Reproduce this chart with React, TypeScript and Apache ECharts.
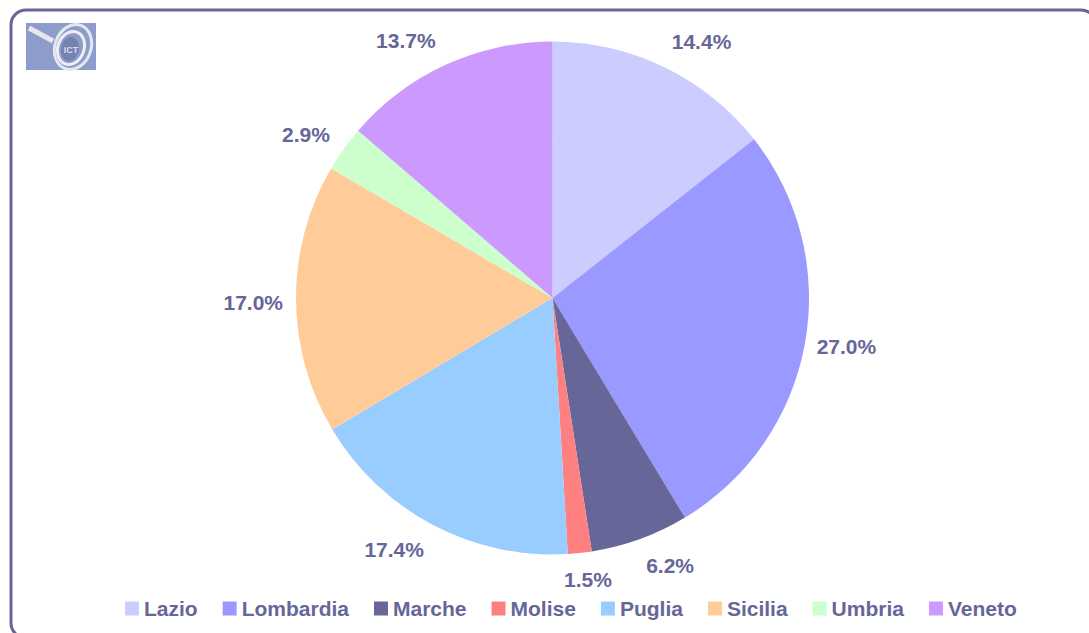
import React, { useEffect, useRef } from "react";
import * as echarts from "echarts";

const categories = ["Lazio", "Lombardia", "Marche", "Molise", "Puglia", "Sicilia", "Umbria", "Veneto"];
const shares = [14.4, 27.0, 6.2, 1.5, 17.4, 17.0, 2.9, 13.7];
const colors = ["#CCCCFF", "#9999FF", "#666699", "#FF8080", "#99CCFF", "#FFCC99", "#CCFFCC", "#CC99FF"];
const INK = "#666699";
const FONT = "'Liberation Sans', Arial, sans-serif";

export default function App() {
  const ref = useRef<HTMLDivElement>(null);
  useEffect(() => {
    document.body.style.margin = "0";
    document.body.style.overflow = "hidden";
    const labelNudge = [
      [2, -15], [0, 0], [2, 15], [-17, 15], [-3, 14], [-1, 3], [-4, -8], [-5, -13],
    ];
    const chart = echarts.init(ref.current!, null, { renderer: "svg" });
    chart.setOption({
      animation: false,
      backgroundColor: "#ffffff",
      color: colors,
      legend: {
        left: 125,
        top: 598,
        itemWidth: 14,
        itemHeight: 14,
        itemGap: 25,
        padding: 0,
        icon: "rect",
        data: categories,
        textStyle: { color: INK, fontFamily: FONT, fontSize: 21, fontWeight: "bold" },
      },
      graphic: [
        {
          type: "rect",
          z: -1,
          shape: { x: 11, y: 10, width: 1085, height: 628, r: 15 },
          style: { fill: "#ffffff", stroke: INK, lineWidth: 3 },
        },
        {
          type: "group",
          x: 26,
          y: 23,
          children: [
            { type: "rect", shape: { x: 0, y: 0, width: 70, height: 47 }, style: { fill: "#8E9CCB" } },
            { type: "line", shape: { x1: 3, y1: 5, x2: 27, y2: 18 }, style: { stroke: "#E8E8EC", lineWidth: 5 } },
            { type: "ellipse", x: 47, y: 24, rotation: -0.35, shape: { cx: 0, cy: 0, rx: 18, ry: 23 }, style: { fill: "none", stroke: "#E6E8F0", lineWidth: 3 } },
            { type: "ellipse", x: 45, y: 25, rotation: -0.35, shape: { cx: 0, cy: 0, rx: 13, ry: 17 }, style: { fill: "none", stroke: "#EDEFF5", lineWidth: 3 } },
            { type: "ellipse", x: 44, y: 26, rotation: -0.2, shape: { cx: 0, cy: 0, rx: 9, ry: 12 }, style: { fill: "#7382B0" } },
            { type: "text", style: { x: 45, y: 27, text: "ICT", align: "center", verticalAlign: "middle", fill: "#D8DCEA", font: "bold 9px 'Liberation Sans'" } },
          ],
        },
      ],
      series: [
        {
          type: "pie",
          center: [552.5, 298],
          radius: [0, 256.5],
          startAngle: 90,
          clockwise: true,
          avoidLabelOverlap: false,
          data: categories.map((name, i) => ({ name, value: shares[i] })),
          label: {
            show: true,
            position: "outside",
            formatter: (p: any) => p.value.toFixed(1) + "%",
            color: INK,
            fontFamily: FONT,
            fontSize: 21,
            fontWeight: "bold",
            distanceToLabelLine: 0,
          },
          labelLine: { show: false, length: 12, length2: 0 },
          labelLayout: (p: any) => ({ dx: labelNudge[p.dataIndex][0], dy: labelNudge[p.dataIndex][1] }),
          itemStyle: { borderWidth: 0 },
          emphasis: { disabled: true },
        },
      ],
    });
    return () => chart.dispose();
  }, []);
  return <div ref={ref} style={{ width: 1089, height: 633 }} />;
}
